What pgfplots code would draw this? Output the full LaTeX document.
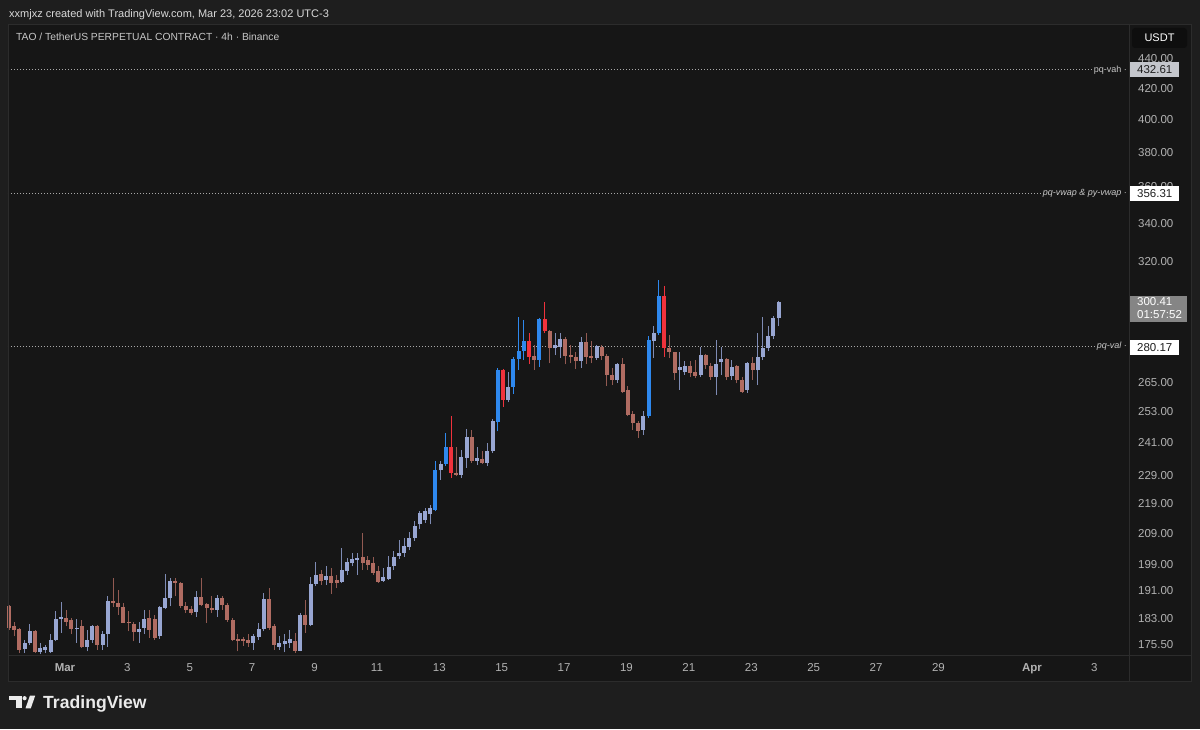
\documentclass[border=0pt]{standalone}
\usepackage{pgfplots}
\pgfplotsset{compat=1.18}
\usepackage{pgfplotstable}
\usepackage{fontspec}
\setmainfont{Liberation Sans}
\definecolor{outerbg}{HTML}{1E1E1E}
\definecolor{panelbg}{HTML}{161616}
\definecolor{bordercol}{HTML}{2C2C2C}
\definecolor{ticktext}{HTML}{B2B2B2}
\definecolor{dupb}{HTML}{98A6D2}
\definecolor{dupw}{HTML}{7E8BB4}
\definecolor{ddnb}{HTML}{B06C62}
\definecolor{ddnw}{HTML}{925A52}
\definecolor{bup}{HTML}{2E88EE}
\definecolor{bdn}{HTML}{F0323C}
\definecolor{lvl}{HTML}{A8A8A8}
\definecolor{lvltext}{HTML}{C8C8C8}
\definecolor{boxgrey}{HTML}{C4C6CC}
\definecolor{curgrey}{HTML}{858585}
\definecolor{usdtbg}{HTML}{0E0E0E}

\pgfplotstableread{
idx op hi lo cl ty
0 186.4 186.8 179.7 180.2 0
1 180.6 182.0 177.8 179.7 0
2 179.9 180.2 173.2 174.1 0
3 174.3 176.9 173.2 176.0 0
4 176.0 181.3 175.5 179.4 0
5 179.4 179.6 173.2 173.4 0
6 173.6 176.0 173.0 174.6 0
7 174.0 175.5 173.2 175.0 0
8 173.4 178.6 173.2 176.9 0
9 176.9 184.9 176.4 182.7 0
10 182.7 187.8 178.8 183.2 0
11 183.0 185.4 180.6 182.0 0
12 182.3 183.0 178.4 179.9 0
13 179.9 182.7 176.0 180.3 0
14 180.6 182.3 174.6 174.9 0
15 175.0 179.7 173.7 176.9 0
16 176.9 181.1 176.0 180.6 0
17 180.6 181.1 174.1 175.5 0
18 175.5 179.2 174.1 178.6 0
19 178.6 189.3 175.0 188.1 0
20 188.1 194.8 186.3 187.3 0
21 187.3 191.1 184.0 186.3 0
22 186.3 187.5 181.6 181.7 0
23 182.0 184.9 179.2 181.6 0
24 181.3 182.0 176.4 178.9 0
25 178.9 182.0 176.0 180.0 0
26 180.2 185.4 178.4 182.7 0
27 183.0 185.4 177.3 179.7 0
28 182.7 184.0 176.9 177.3 0
29 177.8 186.4 177.1 186.1 0
30 185.9 196.1 185.6 188.8 0
31 188.8 194.8 186.4 194.1 0
32 194.1 194.8 189.3 193.5 0
33 193.5 193.8 185.9 186.4 0
34 186.6 187.8 184.5 185.4 0
35 185.6 186.4 184.0 184.5 0
36 184.7 190.8 183.3 189.1 0
37 189.1 194.8 186.4 186.8 0
38 187.0 187.5 181.6 185.9 0
39 185.9 189.5 184.5 185.2 0
40 185.4 189.8 183.3 188.8 0
41 188.8 189.5 185.4 186.8 0
42 186.8 187.3 182.0 182.3 0
43 182.5 183.0 176.4 176.9 0
44 177.1 178.4 173.7 176.4 0
45 177.1 177.6 175.2 176.4 0
46 176.9 178.4 175.0 176.1 0
47 176.1 178.4 174.1 177.8 0
48 177.6 181.7 176.9 179.9 0
49 179.9 190.3 179.2 188.5 0
50 188.5 191.8 179.7 180.2 0
51 180.6 181.3 174.1 175.5 0
52 175.0 177.8 174.1 176.1 0
53 175.6 178.4 173.4 176.4 0
54 176.0 179.5 174.6 177.1 0
55 176.4 178.8 173.2 173.8 0
56 173.8 184.5 173.7 184.0 0
57 184.0 188.3 178.8 181.1 0
58 181.1 195.3 180.6 193.1 0
59 193.1 199.7 192.4 195.9 0
60 196.1 197.4 192.8 194.1 0
61 194.3 198.5 192.8 195.6 0
62 195.6 197.9 190.1 193.5 0
63 194.3 195.9 191.8 193.3 0
64 193.8 204.2 193.3 197.2 0
65 196.9 201.1 195.9 199.7 0
66 199.5 202.8 198.5 200.7 0
67 200.5 202.6 195.9 201.1 0
68 201.4 209.0 197.4 199.5 0
69 200.3 201.6 197.4 199.0 0
70 199.5 201.4 195.9 196.4 0
71 196.9 198.5 193.3 193.8 0
72 194.1 197.9 193.8 195.3 0
73 194.5 201.6 194.3 198.3 0
74 198.5 203.2 197.4 201.4 0
75 201.6 206.7 200.7 202.8 0
76 202.8 207.5 201.5 205.0 0
77 204.5 209.5 203.5 207.5 0
78 207.5 213.0 206.5 211.5 0
79 212.0 216.3 210.5 215.8 0
80 213.5 217.4 212.5 216.3 0
81 215.5 218.5 212.0 217.4 0
82 216.9 234.0 216.3 230.9 1
83 230.7 234.0 227.3 233.0 0
84 233.0 244.6 232.2 239.3 1
85 239.3 251.1 227.9 229.9 1
86 229.9 239.5 228.5 229.1 0
87 229.1 238.3 227.9 235.6 0
88 235.2 246.2 231.6 243.1 0
89 243.1 245.9 233.4 234.3 0
90 234.3 239.3 232.6 235.2 0
91 235.0 237.7 233.0 233.4 0
92 233.4 240.9 232.2 237.7 0
93 237.7 250.0 237.1 249.1 0
94 248.8 270.9 245.3 269.9 1
95 269.9 270.5 255.0 257.7 1
96 257.7 269.4 256.7 263.0 0
97 263.0 275.8 260.1 274.8 1
98 274.8 293.3 270.2 278.4 1
99 278.4 292.2 274.4 282.7 1
100 282.7 286.1 272.6 275.8 1
101 276.1 280.9 270.2 274.4 0
102 274.4 292.9 271.4 292.5 1
103 292.5 300.7 286.1 287.3 1
104 287.3 287.6 272.9 279.4 0
105 279.4 286.1 276.4 280.9 0
106 280.0 286.4 275.1 283.5 0
107 283.5 284.2 272.4 276.1 0
108 276.4 280.9 272.9 275.6 0
109 275.8 278.0 270.5 274.1 0
110 274.1 284.5 271.1 282.2 0
111 282.2 286.4 272.6 275.6 0
112 275.9 282.5 272.9 275.1 0
113 275.1 280.9 274.4 280.5 0
114 280.0 280.9 274.4 276.1 0
115 276.1 276.9 263.3 268.0 0
116 268.0 270.9 263.7 265.7 0
117 265.7 272.9 264.8 272.5 0
118 272.5 275.1 260.4 261.1 0
119 261.8 263.2 251.1 251.8 0
120 252.2 253.1 245.9 248.5 0
121 248.5 249.1 242.8 245.3 0
122 245.9 253.1 244.0 251.1 0
123 251.1 284.8 250.4 283.1 1
124 282.8 289.2 275.1 286.1 0
125 286.1 311.1 285.5 303.1 1
126 303.1 307.9 275.8 279.4 1
127 279.4 285.3 275.1 277.7 0
128 277.7 278.0 265.9 268.8 0
129 269.9 277.8 261.8 271.3 0
130 269.1 273.8 268.0 271.9 0
131 271.9 273.8 267.3 268.6 0
132 269.1 274.4 266.6 267.7 0
133 268.0 280.0 267.3 276.6 0
134 276.6 277.0 270.5 272.3 0
135 271.9 273.0 265.9 267.3 0
136 267.3 283.1 259.7 272.7 0
137 273.3 280.0 268.0 274.7 0
138 274.7 275.1 265.9 267.3 0
139 267.7 274.4 265.9 271.4 0
140 271.9 272.3 264.5 265.9 0
141 265.9 267.3 260.5 261.1 0
142 261.8 273.6 260.4 273.2 0
143 273.2 275.8 265.9 269.9 0
144 269.9 286.4 263.7 275.6 0
145 275.6 293.5 274.4 279.4 0
146 279.4 289.2 278.4 284.8 0
147 284.8 293.9 283.4 292.9 0
148 292.9 301.1 289.5 300.4 0
}\candles

\pgfplotsset{
  wickdup/.style={draw=dupw, line width=1pt, mark=none, forget plot},
  bodydup/.style={draw=dupb, line width=4pt, mark=none, forget plot},
  wickddn/.style={draw=ddnw, line width=1pt, mark=none, forget plot},
  bodyddn/.style={draw=ddnb, line width=4pt, mark=none, forget plot},
  wickbup/.style={draw=bup, line width=1pt, mark=none, forget plot},
  bodybup/.style={draw=bup, line width=4pt, mark=none, forget plot},
  wickbdn/.style={draw=bdn, line width=1pt, mark=none, forget plot},
  bodybdn/.style={draw=bdn, line width=4pt, mark=none, forget plot},
}

\begin{document}
\begin{tikzpicture}
\useasboundingbox (0pt,0pt) rectangle (1200pt,729pt);
\fill[outerbg] (0pt,0pt) rectangle (1200pt,729pt);
\fill[panelbg] (8pt,48pt) rectangle (1191pt,704pt);

\begin{axis}[
  at={(8pt,74pt)}, anchor=south west, scale only axis,
  width=1121pt, height=630pt,
  xmin=-0.21, xmax=215.4,
  ymode=log, ymin=172.7, ymax=464.1,
  axis line style={draw=none},
  major tick length=0pt, tick style={draw=none},
  clip=false,
  xtick={10.75,22.75,34.75,46.75,58.75,70.75,82.75,94.75,106.75,118.75,130.75,142.75,154.75,166.75,178.75,196.75,208.75},
  xticklabels={\textbf{Mar},3,5,7,9,11,13,15,17,19,21,23,25,27,29,\textbf{Apr},3},
  xticklabel style={anchor=base, inner sep=0pt, yshift=-17pt, font=\fontsize{11.5}{13}\selectfont, text=ticktext},
  yticklabel pos=right,
  ytick={175.5,183,191,199,209,219,229,241,253,265,280,300,320,340,360,380,400,420,440},
  yticklabels={175.50,183.00,191.00,199.00,209.00,219.00,229.00,241.00,253.00,265.00,280.00,300.00,320.00,340.00,360.00,380.00,400.00,420.00,440.00},
  yticklabel style={anchor=west, inner sep=0pt, xshift=9pt, font=\fontsize{11.5}{13}\selectfont, text=ticktext},
]
\addplot[lvl, line width=0.8pt, dash pattern=on 1pt off 2pt, forget plot] coordinates {(-0.21,432.61) (215.4,432.61)};
\addplot[lvl, line width=0.8pt, dash pattern=on 1pt off 2pt, forget plot] coordinates {(-0.21,356.31) (215.4,356.31)};
\addplot[lvl, line width=0.8pt, dash pattern=on 1pt off 2pt, forget plot] coordinates {(-0.21,280.17) (215.4,280.17)};

\pgfplotstablegetrowsof{\candles}
\pgfmathtruncatemacro{\nrows}{\pgfplotsretval-1}
\pgfplotsforeachungrouped \rowk in {0,...,\nrows}{%
  \pgfplotstablegetelem{\rowk}{idx}\of\candles\let\cI\pgfplotsretval
  \pgfplotstablegetelem{\rowk}{op}\of\candles\let\cO\pgfplotsretval
  \pgfplotstablegetelem{\rowk}{hi}\of\candles\let\cH\pgfplotsretval
  \pgfplotstablegetelem{\rowk}{lo}\of\candles\let\cL\pgfplotsretval
  \pgfplotstablegetelem{\rowk}{cl}\of\candles\let\cC\pgfplotsretval
  \pgfplotstablegetelem{\rowk}{ty}\of\candles\let\cT\pgfplotsretval
  \ifdim\cC pt<\cO pt\def\cdir{dn}\else\def\cdir{up}\fi
  \ifnum\cT=1 \def\ckind{b}\else\def\ckind{d}\fi
  \edef\cmd{\noexpand\addplot[wick\ckind\cdir] coordinates {(\cI,\cL) (\cI,\cH)};
    \noexpand\addplot[body\ckind\cdir] coordinates {(\cI,\cO) (\cI,\cC)};}%
  \cmd
}

\node[anchor=east, fill=panelbg, inner xsep=2pt, inner ysep=1pt, text=lvltext, font=\fontsize{9}{10}\selectfont] at (axis cs:215.4,432.61) {pq-vah ·};
\node[anchor=east, fill=panelbg, inner xsep=2pt, inner ysep=1pt, text=lvltext, font=\fontsize{9}{10}\selectfont\itshape] at (axis cs:215.4,356.31) {pq-vwap \& py-vwap ·};
\node[anchor=east, fill=panelbg, inner xsep=2pt, inner ysep=1pt, text=lvltext, font=\fontsize{9}{10}\selectfont\itshape] at (axis cs:215.4,280.17) {pq-val ·};
\end{axis}

% borders
\draw[bordercol, line width=1pt] (8pt,48pt) rectangle (1191pt,704pt);
\draw[bordercol, line width=1pt] (1129pt,48pt) -- (1129pt,704pt);
\draw[bordercol, line width=1pt] (8pt,74pt) -- (1191pt,74pt);

% price boxes
\node[anchor=west, fill=boxgrey, text=black!88, inner xsep=7pt, inner ysep=0pt, minimum height=15pt, font=\fontsize{11.5}{13}\selectfont] at (1130pt,659pt) {432.61};
\node[anchor=west, fill=white, text=black!88, inner xsep=7pt, inner ysep=0pt, minimum height=15pt, font=\fontsize{11.5}{13}\selectfont] at (1130pt,535.5pt) {356.31};
\node[anchor=west, fill=white, text=black!88, inner xsep=7pt, inner ysep=0pt, minimum height=15pt, font=\fontsize{11.5}{13}\selectfont] at (1130pt,381.5pt) {280.17};
\fill[curgrey] (1130pt,407pt) rectangle (1187pt,433pt);
\node[anchor=base west, text=white, inner sep=0pt, font=\fontsize{11.5}{13}\selectfont] at (1137pt,423pt) {300.41};
\node[anchor=base west, text=white, inner sep=0pt, font=\fontsize{11.5}{13}\selectfont] at (1137pt,410pt) {01:57:52};

% USDT box
\fill[usdtbg, rounded corners=3pt] (1132pt,681pt) rectangle (1187pt,701pt);
\node[text=white, font=\fontsize{11}{13}\selectfont] at (1159.5pt,691pt) {USDT};

% header
\node[anchor=base west, inner sep=0pt, text=white!85!black, font=\fontsize{11}{13}\selectfont] at (9pt,711pt) {xxmjxz created with TradingView.com, Mar 23, 2026 23:02 UTC-3};
\node[anchor=base west, inner sep=0pt, text=white!78!black, font=\fontsize{10.3}{12}\selectfont] at (16pt,688pt) {TAO / TetherUS PERPETUAL CONTRACT · 4h · Binance};

% TradingView logo
\fill[white!92!black] (9pt,33.3pt) rectangle (21.5pt,28.7pt);
\fill[white!92!black] (16pt,33.3pt) rectangle (21.5pt,20.7pt);
\fill[white!92!black] (24.6pt,30.8pt) circle (2.1pt);
\fill[white!92!black] (25.5pt,20.7pt) -- (30.8pt,20.7pt) -- (35.2pt,33.3pt) -- (29.9pt,33.3pt) -- cycle;
\node[anchor=base west, inner sep=0pt, text=white!92!black, font=\fontsize{17.6}{20}\selectfont\bfseries] at (43pt,20.7pt) {TradingView};
\end{tikzpicture}
\end{document}
